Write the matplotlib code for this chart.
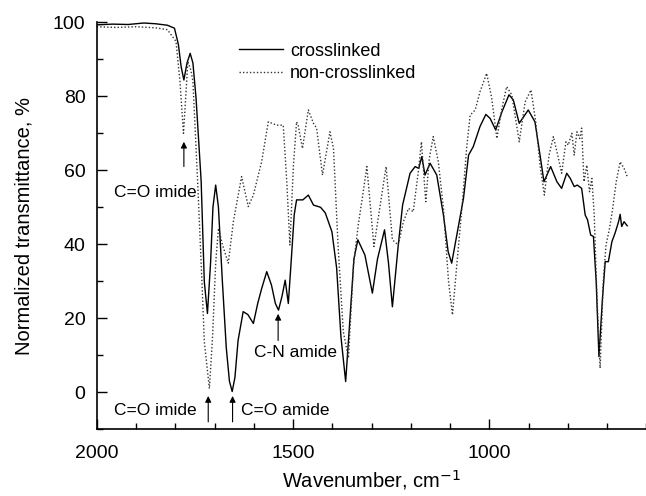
#!/usr/bin/env python3

import matplotlib
matplotlib.use("Agg")
import matplotlib.pyplot as plt
from matplotlib.ticker import MultipleLocator


##### data #####
WN_CROSS = [2000, 1960, 1920, 1880, 1850, 1820, 1802, 1792, 1785, 1778, 1770, 1762,
            1755, 1747, 1734, 1726, 1718, 1710, 1704, 1697, 1690, 1680, 1670, 1662,
            1655, 1648, 1640, 1627, 1615, 1601, 1590, 1580, 1567, 1555, 1545, 1537,
            1528, 1520, 1512, 1505, 1497, 1491, 1475, 1461, 1448, 1430, 1418, 1401,
            1389, 1378, 1366, 1355, 1345, 1335, 1317, 1298, 1285, 1267, 1257, 1247,
            1232, 1221, 1202, 1189, 1180, 1172, 1164, 1151, 1134, 1117, 1105, 1096,
            1079, 1066, 1053, 1041, 1024, 1009, 998, 984, 968, 950, 939, 924, 901,
            884, 871, 861, 844, 828, 816, 803, 794, 784, 776, 765, 756, 750, 742,
            735, 728, 721, 712, 705, 697, 688, 680, 671, 667, 663, 657, 649]
T_CROSS = [99.3, 99.5, 99.4, 99.8, 99.6, 99.2, 98.4, 94, 88, 84.4, 89, 91.6,
           89, 79.5, 57, 29.9, 21.3, 35, 50, 56, 50, 30, 12, 3,
           0.2, 4, 14, 21.8, 21, 18.6, 24, 28, 32.6, 29, 24, 22.2,
           26, 30.3, 24, 35, 48, 52, 52, 53.3, 50.6, 50, 48.5, 43.4,
           33.6, 15, 2.9, 20, 36, 41.2, 37.1, 26.8, 36, 43.9, 35, 23.1,
           39.8, 50.6, 59.2, 61, 60.5, 63.7, 58.7, 61.9, 58.7, 47.9, 38, 34.9,
           44.8, 52.4, 64.1, 66.4, 71.8, 75.1, 74, 70.9, 75.8, 80.4, 79, 72.7, 76.3,
           73.1, 64.1, 56.9, 61, 56.9, 55.1, 59.2, 57.8, 55.6, 56, 55.1, 47.9, 46.6, 42.5,
           42.1, 29.9, 9.6, 25.4, 35.3, 35.3, 40.7, 43, 46.1, 48.1, 44.8, 46.1, 45]

WN_NONCROSS = [2000, 1950, 1900, 1850, 1820, 1798, 1788, 1779, 1772, 1768, 1760, 1755,
               1743, 1732, 1726, 1713, 1705, 1697, 1690, 1680, 1665, 1652, 1631, 1614,
               1601, 1580, 1563, 1542, 1525, 1516, 1508, 1499, 1491, 1487, 1476, 1461,
               1448, 1440, 1425, 1406, 1397, 1385, 1372, 1359, 1346, 1334, 1325, 1312,
               1294, 1278, 1263, 1247, 1232, 1219, 1206, 1194, 1181, 1173, 1162, 1153,
               1143, 1130, 1117, 1104, 1094, 1083, 1070, 1058, 1049, 1036, 1024, 1007,
               994, 981, 968, 956, 943, 924, 909, 894, 882, 871, 860, 848, 837, 824,
               816, 805, 799, 790, 784, 777, 770, 765, 759, 752, 745, 739, 733, 726,
               718, 710, 703, 694, 686, 677, 667, 657, 649]
T_NONCROSS = [98.8, 98.6, 98.8, 98.5, 98, 94.8, 84, 70, 82, 89.4, 87, 84,
              57, 29.9, 13.7, 1, 15, 35, 44.3, 40, 34.9, 46.1, 58.3, 50.2,
              53.3, 62.3, 73.1, 72.2, 72.2, 57, 39.8, 61.4, 73.1, 72.2, 65.9, 76.3,
              72.7, 71.4, 58.7, 70.4, 65.9, 38.9, 16.4, 9.2, 34.4, 45.2, 51.5, 61,
              39.4, 50.6, 61, 41.2, 39.8, 46.1, 49.7, 48.8, 59.6, 67.7, 51.5, 63.2,
              69.1, 62.3, 49.7, 29.9, 20.9, 34.4, 49.7, 65.9, 74.9, 76.3, 81.2, 86.2,
              79.5, 68.6, 76.8, 82.6, 80.4, 67.7, 78.5, 81.7, 73.1, 61.4, 53.3, 64.1, 69.1, 63.2,
              59.2, 67.7, 66.8, 70, 64.1, 70.4, 68.6, 71.4, 56.9, 61.4, 54.2, 57.8, 47.9, 25.4,
              6.5, 29.9, 39.8, 44.3, 49.7, 56.9, 62.3, 60.5, 58.3]

# band labels: (text, text x, text y)
LABELS = [
    ("C=O imide", 1851, 54.0),
    ("C=O imide", 1851, -4.8),
    ("C=O amide", 1519, -4.8),
    ("C-N amide", 1493, 10.7),
]
# arrows: (x, tail y, tip y)
ARROWS = [
    (1778, 61.0, 67.7),
    (1716, -8.0, -1.0),
    (1654, -8.0, -1.0),
    (1538, 14.0, 21.2),
]


##### plot #####
plt.rcParams["font.family"] = ["Liberation Sans", "DejaVu Sans"]

fig = plt.figure(figsize=(6.46, 4.96), dpi=100)
ax = fig.add_axes([0.1497, 0.1345, 0.851, 0.8206])

ax.plot(WN_CROSS, T_CROSS, color="black", linewidth=1.0, label="crosslinked")
ax.plot(WN_NONCROSS, T_NONCROSS, color="#333333", linewidth=1.0,
        linestyle=(0, (1, 1.5)), label="non-crosslinked")

for text, x, y in LABELS:
    ax.text(x, y, text, fontsize=12.5, ha="center", va="center")

for x, y0, y1 in ARROWS:
    ax.annotate("", xy=(x, y1), xytext=(x, y0),
                arrowprops=dict(arrowstyle="-|>", color="black", lw=0.8,
                                mutation_scale=9, shrinkA=0, shrinkB=0))

ax.set_xlim(2000, 600)
ax.set_ylim(-10, 100)

ax.xaxis.set_major_locator(MultipleLocator(500))
ax.xaxis.set_minor_locator(MultipleLocator(100))
ax.yaxis.set_major_locator(MultipleLocator(20))
ax.yaxis.set_minor_locator(MultipleLocator(10))

ax.tick_params(which="both", direction="in", width=1.0, labelsize=14)
ax.tick_params(which="major", length=7)
ax.tick_params(which="minor", length=4)
ax.tick_params(axis="x", pad=11)
ax.tick_params(axis="y", pad=8)

for side in ["top", "right"]:
    ax.spines[side].set_visible(False)
for side in ["left", "bottom"]:
    ax.spines[side].set_linewidth(1.2)

ax.set_xlabel("Wavenumber, cm$^{-1}$", fontsize=14.5, labelpad=5)
ax.set_ylabel("Normalized transmittance, %", fontsize=14.5, labelpad=14)

ax.legend(loc="upper left", bbox_to_anchor=(0.23, 0.99), frameon=False,
          fontsize=13, handlelength=2.4, handletextpad=0.4, labelspacing=0.3)

fig.savefig("out.png", dpi=100)
